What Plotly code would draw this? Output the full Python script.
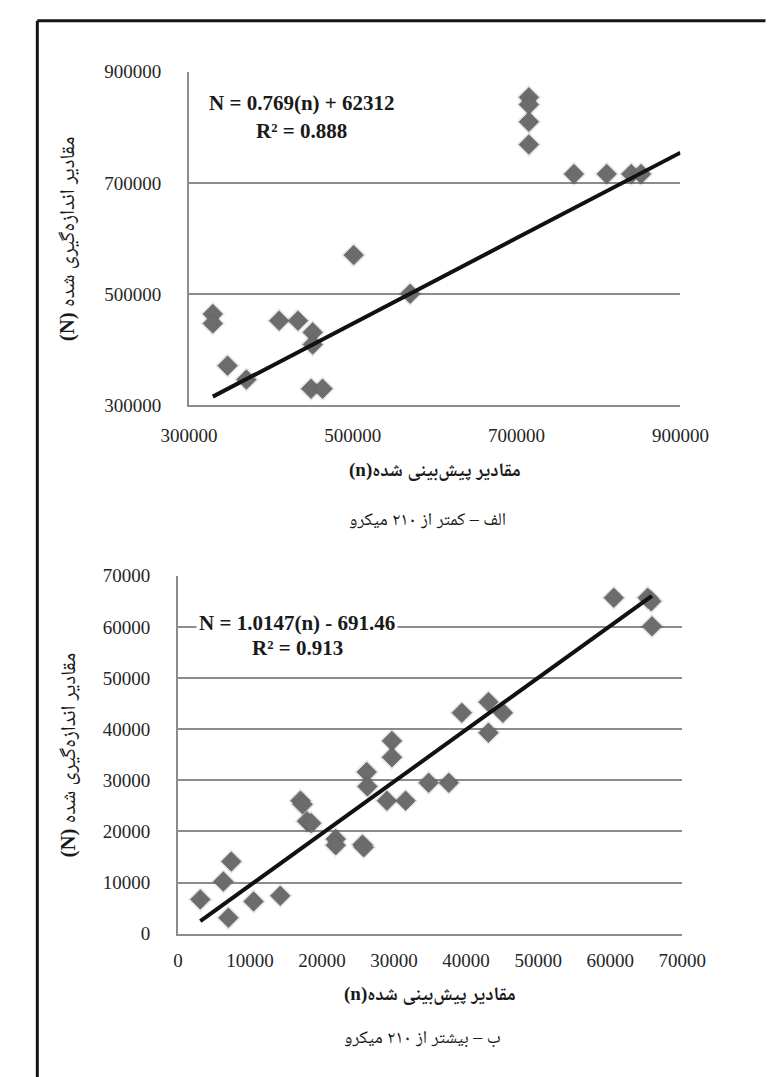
import plotly.graph_objects as go

W, H = 776, 1077

# Panel A: below 210 micron  (predicted n, measured N)
top_pred = [329000, 329000, 347000, 370000, 410000, 433000, 451000, 451000,
            449000, 463000, 501000, 570000, 715000, 715000, 715000, 715000,
            770000, 810000, 840000, 852000]
top_meas = [464000, 447000, 371000, 346000, 452000, 452000, 431000, 409000,
            329500, 329500, 570000, 500500, 854000, 841000, 810000, 769000,
            716000, 716000, 716000, 716000]
top_slope, top_intercept, top_r2 = 0.769, 62312, 0.888
top_ticks = [300000, 500000, 700000, 900000]

# Panel B: above 210 micron
bot_pred = [3100, 6300, 7400, 7000, 10500, 14200, 17000, 17300, 17900, 18500,
            21900, 21900, 25600, 25800, 26200, 26300, 29000, 31600, 29700, 29700,
            34800, 37600, 39400, 43100, 43100, 45100, 60500, 65200, 65700, 65800]
bot_meas = [6700, 10200, 14100, 3100, 6300, 7400, 26000, 25300, 22000, 21600,
            18500, 17300, 17400, 16900, 31600, 28800, 26000, 26000, 37700, 34500,
            29500, 29500, 43200, 45300, 39300, 43200, 65700, 65700, 65000, 60100]
bot_slope, bot_intercept, bot_r2 = 1.0147, -691.46, 0.913
bot_ticks = [0, 10000, 20000, 30000, 40000, 50000, 60000, 70000]

# axis titles and captions (right-to-left text wrapped in an RTL embedding)
RLE, PDF = "\u202b", "\u202c"
y_title = RLE + "مقادیر اندازه‌گیری شده " + "<b>(N)" + PDF + "</b>"
x_title = "<b>" + RLE + "مقادیر پیش‌بینی شده(n)" + PDF + "</b>"
top_caption = "الف – کمتر از ۲۱۰ میکرو"
bot_caption = "ب – بیشتر از ۲۱۰ میکرو"

SERIF = "Liberation Serif, Noto Naskh Arabic, DejaVu Sans"
GRID = "#8c8c8c"
MARK = "#6c6c6c"

# plot boxes in pixels (left, right, top, bottom)
TOP_BOX = (173, 704, 63, 403)
BOT_BOX = (161, 706, 577, 942)


def fx(p):
    return p / W


def fy(p):
    return 1 - p / H


def equation(a, b):
    sign = "+" if b >= 0 else "-"
    return f"N = {a:g}(n) {sign} {abs(b):g}"


fig = go.Figure()


def add_panel(idx, pred, meas, a, b, ticks, box, line_x, tick_gap):
    xa = "x" if idx == 1 else f"x{idx}"
    ya = "y" if idx == 1 else f"y{idx}"
    # soft shadow under the markers
    fig.add_trace(go.Scatter(
        x=pred, y=meas, mode="markers", xaxis=xa, yaxis=ya,
        marker=dict(symbol="diamond", size=19, color="rgba(0,0,0,0.10)"),
        hoverinfo="skip"))
    fig.add_trace(go.Scatter(
        x=pred, y=meas, mode="markers", xaxis=xa, yaxis=ya,
        marker=dict(symbol="diamond", size=15, color=MARK,
                    line=dict(width=1, color="rgba(90,90,90,0.6)"))))
    fig.add_trace(go.Scatter(
        x=line_x, y=[a * v + b for v in line_x], mode="lines",
        xaxis=xa, yaxis=ya, line=dict(color="#111111", width=4)))

    l, r, t, bt = box
    axis_font = dict(family=SERIF, size=19, color="#262626")
    key = "" if idx == 1 else str(idx)
    fig.update_layout(**{
        f"xaxis{key}": dict(
            domain=[fx(l), fx(r)], range=[ticks[0], ticks[-1]],
            tickvals=ticks, tickformat="d", showgrid=False, zeroline=False,
            showline=True, linecolor=GRID, linewidth=2, ticks="",
            tickfont=axis_font, ticklabelstandoff=tick_gap, anchor=ya),
        f"yaxis{key}": dict(
            domain=[fy(bt), fy(t)], range=[ticks[0], ticks[-1]],
            tickvals=ticks, tickformat="d", showgrid=True, gridcolor=GRID,
            gridwidth=2, zeroline=False, showline=True, linecolor=GRID,
            linewidth=2, ticks="", tickfont=axis_font,
            ticklabelstandoff=22, anchor=xa),
    })


add_panel(1, top_pred, top_meas, top_slope, top_intercept, top_ticks,
          TOP_BOX, [min(top_pred), top_ticks[-1]], 12)
add_panel(2, bot_pred, bot_meas, bot_slope, bot_intercept, bot_ticks,
          BOT_BOX, [min(bot_pred), max(bot_pred)], 9)


def note(x, y, text, font, **kw):
    return dict(x=fx(x), y=fy(y), xref="paper", yref="paper", text=text,
                showarrow=False, font=font, xanchor="center",
                yanchor="middle", **kw)


ann = []
eq_font = dict(family="Liberation Serif", size=21, color="#1a1a1a")
# regression equations
for a, b, r2, cx, y1, y2 in [
        (top_slope, top_intercept, top_r2, 295, 95, 123),
        (bot_slope, bot_intercept, bot_r2, 290, 625, 651)]:
    ann.append(note(cx, y1, f"<b>{equation(a, b)}</b>", eq_font,
                    bgcolor="white", borderpad=2))
    ann.append(note(cx, y2, f"<b>R² = {r2:.3f}</b>", eq_font))

ytitle_font = dict(family=SERIF, size=21, color="#1a1a1a")
xtitle_font = dict(family=SERIF, size=19, color="#1a1a1a")
cap_font = dict(family=SERIF, size=18, color="#1a1a1a")
for box, cap, t_off, c_off in [(TOP_BOX, top_caption, 66, 116),
                               (BOT_BOX, bot_caption, 62, 106)]:
    l, r, t, bt = box
    ann.append(note(42, (t + bt) / 2, y_title, ytitle_font, textangle=-90))
    ann.append(note((l + r) / 2, bt + t_off, x_title, xtitle_font))
    ann.append(note((l + r) / 2 - 8, bt + c_off, RLE + cap + PDF, cap_font))

FRAME = dict(color="#151515", width=3)
fig.update_layout(
    width=W, height=H, margin=dict(l=0, r=0, t=0, b=0),
    paper_bgcolor="white", plot_bgcolor="white", showlegend=False,
    hovermode=False, annotations=ann,
    shapes=[
        dict(type="line", xref="paper", yref="paper",
             x0=fx(9), x1=fx(W + 20), y0=fy(11), y1=fy(11), line=FRAME),
        dict(type="line", xref="paper", yref="paper",
             x0=fx(9), x1=fx(9), y0=fy(11), y1=fy(H + 20), line=FRAME),
    ],
)

fig.write_html("out.html")
